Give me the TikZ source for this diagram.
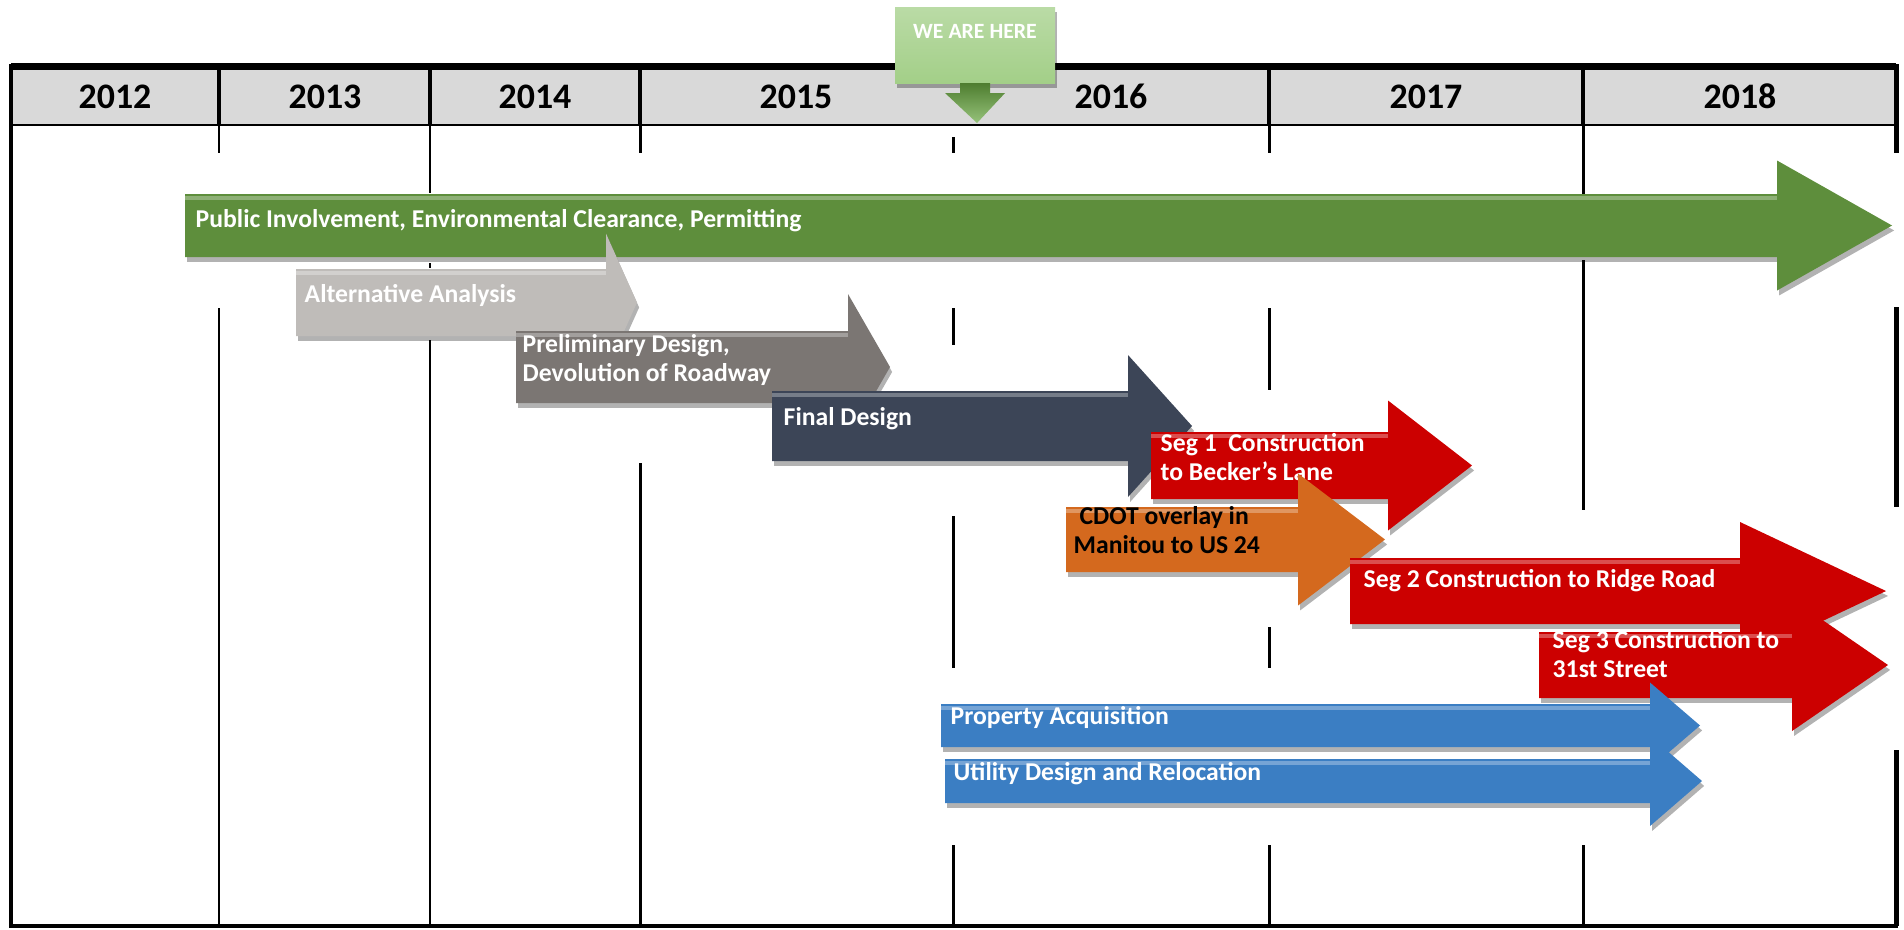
\documentclass[tikz,border=0pt]{standalone}
\usepackage{fontspec}
\setmainfont{Carlito}
\usetikzlibrary{shadows}

\definecolor{hdrgray}{HTML}{D9D9D9}
\definecolor{pubgreen}{HTML}{5E8E3C}
\definecolor{altgray}{HTML}{BFBCB9}
\definecolor{prelimgray}{HTML}{7B7673}
\definecolor{finalslate}{HTML}{3C4557}
\definecolor{segred}{HTML}{CC0000}
\definecolor{cdotorange}{HTML}{D4691E}
\definecolor{utilblue}{HTML}{3B7EC3}
\definecolor{herelight}{HTML}{A3CF88}
\definecolor{heredark}{HTML}{4E7D2F}

\begin{document}
\begin{tikzpicture}[x=0.01cm, y=-0.01cm,
                    outerline/.style={line width=1.4pt},
                    topline/.style={line width=2pt},
                    hdrline/.style={line width=0.6pt},
                    divider/.style={line width=1.1pt},
                    gridline/.style={line width=0.85pt},
                    year/.style={font=\fontsize{10.2}{12}\selectfont\bfseries, anchor=base, inner sep=0pt},
                    barlabel/.style={font=\fontsize{7.3}{8}\selectfont\bfseries, text=white, anchor=base west, inner sep=0pt, align=left},
                    barshadow/.style={drop shadow={shadow xshift=0.6pt, shadow yshift=-1.4pt, opacity=.3, fill=black}}
                    ]
    % bar: style, start, head start, tip, top, bottom, half head
    \def\tlbar#1#2#3#4#5#6#7{%
        \fill[#1, barshadow] (#2,#5) -- (#3,#5) -- (#3,{(#5+#6)/2-#7}) -- (#4,{(#5+#6)/2})
            -- (#3,{(#5+#6)/2+#7}) -- (#3,#6) -- (#2,#6) -- cycle;
        \draw[white, opacity=.3, line width=0.9pt] (#2,#5+4) -- (#3,#5+4);
    }

    \useasboundingbox (0,0) rectangle (1904,929);

    % header row
    \fill[hdrgray] (11,68) rectangle (1896,125);
    \draw[hdrline] (11,125) -- (1896,125);
    \draw[topline] (11,66.5) -- (1896,66.5);
    \draw[divider] (219,66) -- (219,125) (430,66) -- (430,125) (640,66) -- (640,125)
                   (1269,66) -- (1269,125) (1583,66) -- (1583,125);

    \node[year] (y2012) at (115,108) {2012};
    \node[year] (y2013) at (325,108) {2013};
    \node[year] (y2014) at (535,108) {2014};
    \node[year] (y2015) at (796,108) {2015};
    \node[year] (y2016) at (1111,108) {2016};
    \node[year] (y2017) at (1426,108) {2017};
    \node[year] (y2018) at (1740,108) {2018};

    % frame and year lines
    \draw[outerline] (11,64) -- (11,926) -- (1898,926);
    \draw[outerline] (1896,64) -- (1896,153) (1896,307) -- (1896,507) (1896,750) -- (1896,926);
    \draw[gridline] (219,125) -- (219,153) (219,308) -- (219,926);
    \draw[gridline, line width=0.6pt] (430,125) -- (430,193) (430,263) -- (430,268) (430,340) -- (430,926);
    \draw[gridline] (640,125) -- (640,153) (640,463) -- (640,926);
    \draw[gridline] (953,137) -- (953,153) (953,308) -- (953,345) (953,516) -- (953,668) (953,845) -- (953,926);
    \draw[gridline] (1269,125) -- (1269,153) (1269,308) -- (1269,390) (1269,627) -- (1269,668) (1269,845) -- (1269,926);
    \draw[gridline] (1583,125) -- (1583,194) (1583,260) -- (1583,510) (1583,845) -- (1583,926);

    % task bars (two-line labels sit on their last baseline)
    \tlbar{pubgreen}{185}{1777}{1892}{194}{257}{65}
    \node[barlabel] (pub) at (195,227) {Public Involvement, Environmental Clearance, Permitting};

    \tlbar{altgray}{296}{606}{637}{269}{336}{69}
    \node[barlabel] (alt) at (304,302) {Alternative Analysis};

    \tlbar{prelimgray}{516}{848}{890}{331}{403}{73}
    \node[barlabel] (prelim) at (522,381) {Preliminary Design,\\Devolution of Roadway};

    \tlbar{finalslate}{772}{1128}{1192}{391}{461}{71}
    \node[barlabel] (final) at (783,425) {Final Design};

    \tlbar{segred}{1151}{1388}{1472}{432}{499}{65}
    \node[barlabel] (seg1) at (1160,480) {Seg 1~ Construction\\to Becker's Lane};

    \tlbar{cdotorange}{1066}{1298}{1385}{507}{572}{66}
    \node[barlabel, text=black] (cdot) at (1073,553) {\ CDOT overlay in\\Manitou to US 24};

    \tlbar{segred}{1350}{1740}{1886}{558}{624}{69}
    \node[barlabel] (seg2) at (1363,587) {Seg 2 Construction to Ridge Road};

    \tlbar{segred}{1539}{1792}{1888}{632}{698}{66}
    \node[barlabel] (seg3) at (1552,677) {Seg 3 Construction to\\31st Street};

    \tlbar{utilblue}{941}{1650}{1700}{704}{747}{43}
    \node[barlabel] (prop) at (950,724) {Property Acquisition};

    \tlbar{utilblue}{945}{1650}{1702}{759}{803}{45}
    \node[barlabel] (util) at (953,780) {Utility Design and Relocation};

    % marker
    \shade[top color=herelight!75!white, bottom color=herelight, barshadow] (895,7) rectangle (1055,83);
    \shade[top color=heredark, bottom color=herelight!85!heredark]
        (960,83) -- (990,83) -- (990,93) -- (1005,93) -- (977,123) -- (945,93) -- (960,93) -- cycle;
    \node[font=\fontsize{6.2}{7}\selectfont\bfseries, text=white, anchor=base, inner sep=0pt] (here) at (975,38) {WE ARE HERE};
\end{tikzpicture}
\end{document}
